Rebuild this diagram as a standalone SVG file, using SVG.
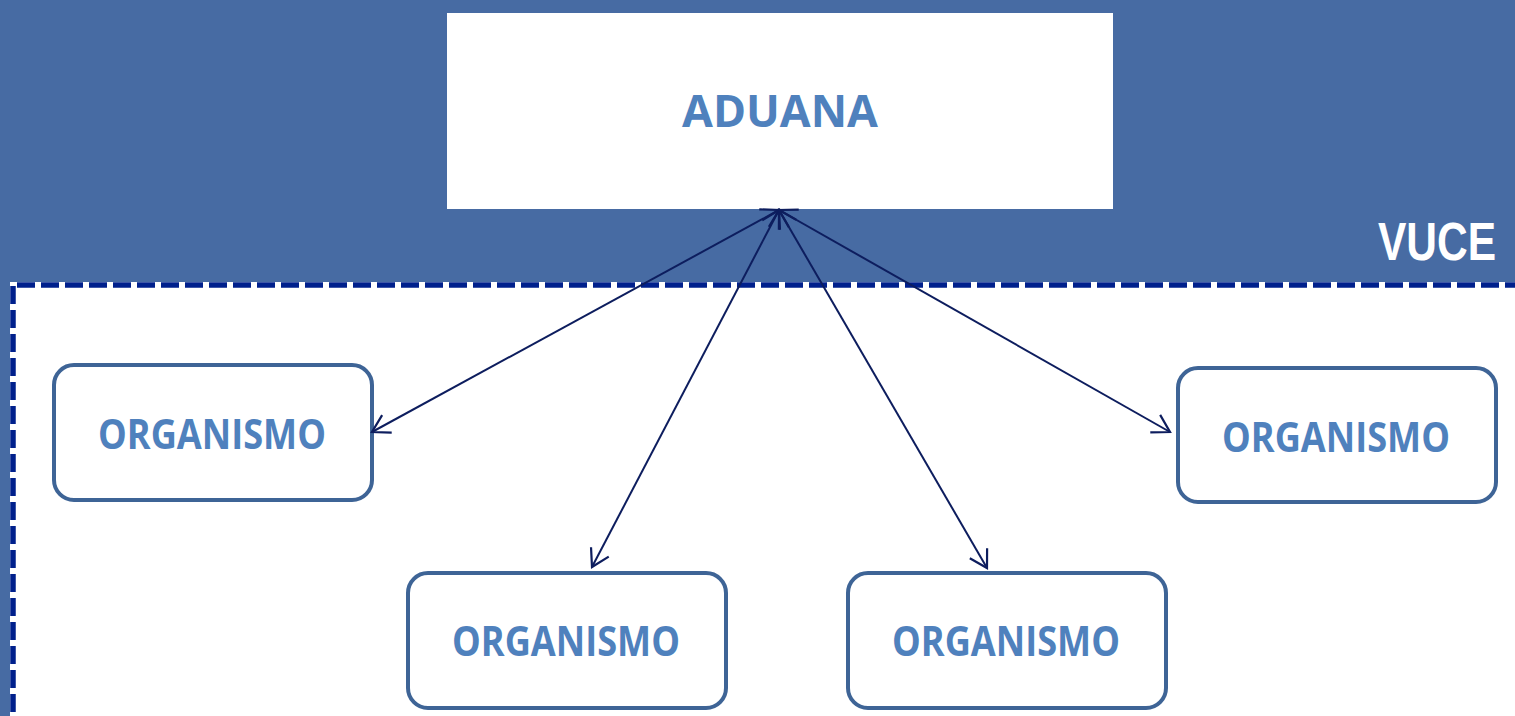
<svg xmlns="http://www.w3.org/2000/svg" width="1515" height="716" viewBox="0 0 1515 716">
  <style>
    .bg { fill: #476BA3; }
    .panel { fill: #FFFFFF; }
    .dash { fill: none; stroke: #00208C; stroke-width: 5.5; stroke-dasharray: 18 6; }
    .org rect { fill: #FFFFFF; stroke: #3E6496; stroke-width: 4; }
    .label { font-family: "Open Sans", "Liberation Sans", sans-serif; font-weight: bold; fill: #4F81BD; text-anchor: middle; }
    .vuce { font-family: "Liberation Sans", Arial, sans-serif; font-weight: bold; fill: #FFFFFF; font-size: 53px; }
    .conn { fill: none; stroke: #0D1D5E; stroke-width: 2; }
  </style>
  <defs>
    <marker id="arrow" markerUnits="userSpaceOnUse" markerWidth="40" markerHeight="40" viewBox="-20 -20 40 40" refX="0" refY="0" orient="auto-start-reverse" overflow="visible">
      <path d="M-17,-10 L0,0 L-17,10" fill="none" stroke="#0D1D5E" stroke-width="2.2" stroke-linejoin="miter"/>
    </marker>
  </defs>

  <rect class="bg" x="0" y="0" width="1515" height="716"/>
  <rect class="panel" x="10" y="282" width="1505" height="434"/>
  <path class="dash" d="M17,285 L1515,285"/>
  <path class="dash" d="M13,286 L13,716"/>

  <text class="vuce" x="1378" y="260" textLength="118" lengthAdjust="spacingAndGlyphs">VUCE</text>

  <g id="aduana">
    <rect x="447" y="13" width="666" height="196" fill="#FFFFFF"/>
    <text class="label" x="780" y="127" font-size="45" textLength="196" lengthAdjust="spacingAndGlyphs">ADUANA</text>
  </g>

  <g id="organismo1" class="org">
    <rect x="54" y="365" width="318" height="135" rx="20" ry="20"/>
    <text class="label" x="212" y="449" font-size="41" textLength="228" lengthAdjust="spacingAndGlyphs">ORGANISMO</text>
  </g>
  <g id="organismo2" class="org">
    <rect x="408" y="573" width="318" height="135" rx="20" ry="20"/>
    <text class="label" x="566" y="656" font-size="41" textLength="228" lengthAdjust="spacingAndGlyphs">ORGANISMO</text>
  </g>
  <g id="organismo3" class="org">
    <rect x="848" y="573" width="318" height="135" rx="20" ry="20"/>
    <text class="label" x="1006" y="656" font-size="41" textLength="228" lengthAdjust="spacingAndGlyphs">ORGANISMO</text>
  </g>
  <g id="organismo4" class="org">
    <rect x="1178" y="368" width="318" height="134" rx="20" ry="20"/>
    <text class="label" x="1336" y="452" font-size="41" textLength="228" lengthAdjust="spacingAndGlyphs">ORGANISMO</text>
  </g>

  <g id="connectors">
    <line class="conn" x1="779" y1="210" x2="372" y2="432" marker-start="url(#arrow)" marker-end="url(#arrow)"/>
    <line class="conn" x1="779" y1="210" x2="592" y2="567" marker-start="url(#arrow)" marker-end="url(#arrow)"/>
    <line class="conn" x1="779" y1="210" x2="987" y2="568" marker-start="url(#arrow)" marker-end="url(#arrow)"/>
    <line class="conn" x1="779" y1="210" x2="1170" y2="432" marker-start="url(#arrow)" marker-end="url(#arrow)"/>
  </g>
</svg>
